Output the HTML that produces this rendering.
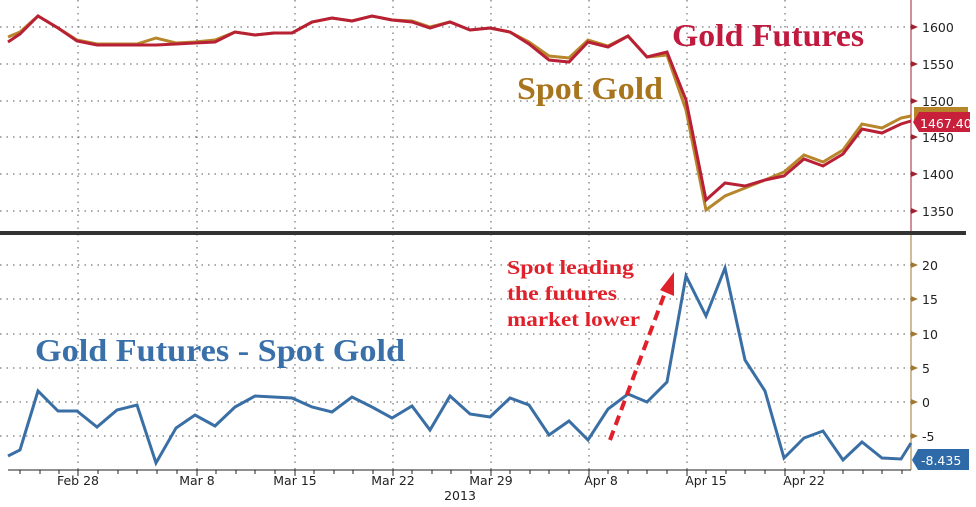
<!DOCTYPE html>
<html><head><meta charset="utf-8"><style>
body{margin:0;background:#fff;}
svg{display:block;font-family:"DejaVu Sans","Liberation Sans",sans-serif;}
.t{font-size:12.5px;fill:#222}
.s{font-family:"Liberation Serif",serif;font-weight:bold}
</style></head><body>
<svg width="976" height="507" viewBox="0 0 976 507">
<rect width="976" height="507" fill="#fff"/>
<g stroke="#555" stroke-width="1" stroke-dasharray="1.5,5">
<line x1="0" y1="27" x2="911" y2="27"/><line x1="0" y1="64" x2="911" y2="64"/><line x1="0" y1="101" x2="911" y2="101"/><line x1="0" y1="137" x2="911" y2="137"/><line x1="0" y1="174" x2="911" y2="174"/><line x1="0" y1="211" x2="911" y2="211"/>
<line x1="0" y1="265" x2="911" y2="265"/><line x1="0" y1="299" x2="911" y2="299"/><line x1="0" y1="334" x2="911" y2="334"/><line x1="0" y1="368" x2="911" y2="368"/><line x1="0" y1="402" x2="911" y2="402"/><line x1="0" y1="436" x2="911" y2="436"/>
<line x1="78" y1="0" x2="78" y2="470"/><line x1="197" y1="0" x2="197" y2="470"/><line x1="295" y1="0" x2="295" y2="470"/><line x1="393" y1="0" x2="393" y2="470"/><line x1="491" y1="0" x2="491" y2="470"/><line x1="589" y1="0" x2="589" y2="470"/><line x1="687" y1="0" x2="687" y2="470"/><line x1="785" y1="0" x2="785" y2="470"/>
</g>
<rect x="0" y="231" width="966" height="4" fill="#333"/>
<line x1="911" y1="0" x2="911" y2="231" stroke="#a02030"/>
<line x1="911" y1="235" x2="911" y2="470" stroke="#a07830"/>
<line x1="8" y1="470" x2="911" y2="470" stroke="#222"/>
<g stroke="#222">
<path d="M20 470v4M40 470v4M59 470v4M98 470v4M118 470v4M137 470v4M157 470v4M177 470v4M216 470v4M236 470v4M255 470v4M275 470v4M314 470v4M334 470v4M353 470v4M373 470v4M412 470v4M432 470v4M451 470v4M471 470v4M510 470v4M530 470v4M549 470v4M569 470v4M608 470v4M628 470v4M647 470v4M667 470v4M706 470v4M726 470v4M745 470v4M765 470v4M804 470v4M824 470v4M843 470v4M863 470v4M882 470v4M902 470v4"/>
<path d="M78 470v6M197 470v6M295 470v6M393 470v6M491 470v6M589 470v6M687 470v6M785 470v6"/>
</g>
<g class="t" text-anchor="middle">
<text x="78" y="485">Feb 28</text><text x="197" y="485">Mar 8</text><text x="295" y="485">Mar 15</text><text x="393" y="485">Mar 22</text><text x="491" y="485">Mar 29</text><text x="601" y="485">Apr 8</text><text x="706" y="485">Apr 15</text><text x="804" y="485">Apr 22</text><text x="460" y="500">2013</text>
</g>
<g class="t" font-size="13.5">
<text x="922" y="32">1600</text><text x="922" y="69">1550</text><text x="922" y="106">1500</text><text x="922" y="142">1450</text><text x="922" y="179">1400</text><text x="922" y="216">1350</text>
<text x="922" y="270">20</text><text x="922" y="304">15</text><text x="922" y="339">10</text><text x="922" y="373">5</text><text x="922" y="407">0</text><text x="922" y="441">-5</text>
</g>
<g fill="#a02030"><path d="M911 24l7 3-7 3zM911 61l7 3-7 3zM911 98l7 3-7 3zM911 134l7 3-7 3zM911 171l7 3-7 3zM911 208l7 3-7 3z"/></g>
<g fill="#a07830"><path d="M911 262l7 3-7 3zM911 296l7 3-7 3zM911 331l7 3-7 3zM911 365l7 3-7 3zM911 399l7 3-7 3zM911 433l7 3-7 3z"/></g>
<polyline fill="none" stroke="#b8862a" stroke-width="3" points="8,37 20,32 38,16 58,28 77,40 97,44 117,44 137,44 156,38 176,43 195,42 215,40 235,32 255,35 274,33 292,33 312,22 332,18 352,21 372,16 392,20 412,21 430,27 450,22 470,30 490,28 510,32 529,42 549,56 569,58 588,40 608,46 628,36 647,57 667,55 686,110 706,210 725,196 745,188 765,180 784,172 804,155 823,162 843,150 862,124 882,128 901,118 911,116"/>
<polyline fill="none" stroke="#b82035" stroke-width="3" points="8,42 20,34 38,16 58,28 77,41 97,45 117,45 137,45 156,45 176,44 195,43 215,42 235,32 255,35 274,33 292,33 312,22 332,18 352,21 372,16 392,20 412,22 430,28 450,22 470,30 490,28 510,32 529,44 549,60 569,62 588,42 608,47 628,36 647,57 667,52 686,100 706,200 725,183 745,186 765,180 784,176 804,159 823,166 843,154 862,129 882,133 901,124 911,121"/>
<polyline fill="none" stroke="#3a6fa5" stroke-width="3" points="8,456 20,450 38,391 58,411 77,411 97,427 117,410 137,405 156,463 176,428 195,415 215,426 235,407 255,396 292,398 312,407 332,412 352,397 372,407 392,418 412,406 430,430 450,396 470,414 490,417 510,398 529,405 549,435 569,421 588,440 608,409 628,394 647,402 667,382 686,276 706,316 725,268 745,360 765,391 784,458 804,438 823,431 843,460 862,442 882,458 901,459 911,443"/>
<rect x="914" y="107" width="54" height="17" fill="#b8862a"/>
<path d="M919 112h51v20h-51l-6-10z" fill="#c8203a"/>
<text x="920" y="128" style="font-size:12.5px" fill="#fff">1467.40</text>
<path d="M918 449h51v21h-51l-6-10z" fill="#2e6aa8"/>
<text x="921" y="465" style="font-size:12.5px" fill="#fff">-8.435</text>
<text class="s" x="672" y="46" font-size="32" textLength="192" lengthAdjust="spacingAndGlyphs" fill="#c01a3e">Gold Futures</text>
<text class="s" x="517" y="99" font-size="32" textLength="146" lengthAdjust="spacingAndGlyphs" fill="#a8741c">Spot Gold</text>
<text class="s" x="35" y="361" font-size="32" textLength="370" lengthAdjust="spacingAndGlyphs" fill="#3a70aa">Gold Futures - Spot Gold</text>
<g class="s" font-size="20" fill="#e0202a"><text x="507" y="274" textLength="127" lengthAdjust="spacingAndGlyphs">Spot leading</text><text x="507" y="300" textLength="110" lengthAdjust="spacingAndGlyphs">the futures</text><text x="507" y="326" textLength="133" lengthAdjust="spacingAndGlyphs">market lower</text></g>
<line x1="610" y1="440" x2="666" y2="290" stroke="#e0202a" stroke-width="4" stroke-dasharray="10,6"/>
<path d="M674 272l0 24-14-6z" fill="#e0202a"/>
</svg>
</body></html>
